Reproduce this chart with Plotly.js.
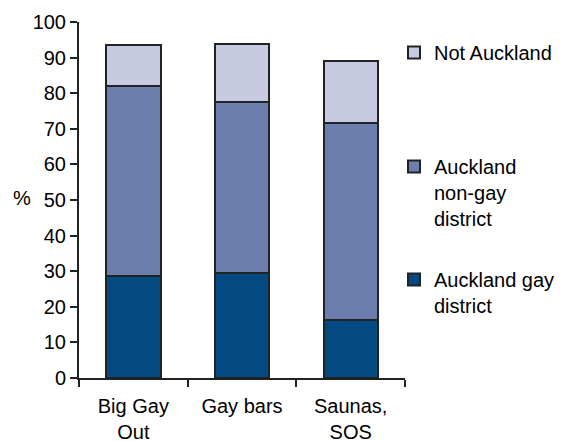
<!DOCTYPE html>
<html>
<head>
<meta charset="utf-8">
<script src="https://cdn.plot.ly/plotly-3.0.1.min.js"></script>
<style>html,body{margin:0;padding:0;background:#fff;}#chart{width:566px;height:441px;}</style>
</head>
<body>
<div id="chart"></div>
<script>
const categories = ["Big Gay<br>Out", "Gay bars", "Saunas,<br>SOS"];
const gayDistrict = [28.6, 29.6, 16.4];
const nonGayDistrict = [53.3, 47.9, 55.1];
const notAuckland = [11.7, 16.3, 17.6];
const yTicks = [0, 10, 20, 30, 40, 50, 60, 70, 80, 90, 100];

const FONT = '"Liberation Sans", Arial, sans-serif';
const EDGE = '#1f2422';
const fsz = 20;

const traces = [
  {type:'bar', x:categories, y:gayDistrict, name:'Auckland gay<br>district',
   marker:{color:'#034A83', line:{color:EDGE, width:2}}, legend:'legend3', hoverinfo:'none'},
  {type:'bar', x:categories, y:nonGayDistrict, name:'Auckland<br>non-gay<br>district',
   marker:{color:'#6B7EAE', line:{color:EDGE, width:2}}, legend:'legend2', hoverinfo:'none'},
  {type:'bar', x:categories, y:notAuckland, name:'Not Auckland',
   marker:{color:'#C8CAE2', line:{color:EDGE, width:2}}, legend:'legend', hoverinfo:'none'}
];

const W = 566, H = 441;
const L = 79, R = 161, T = 22, B = 63;
const pw = W - L - R, ph = H - T - B;
function lx(px){ return (px - L) / pw; }
function ly(py){ return (H - B - py) / ph; }

const legBase = {font:{family:FONT, size:fsz, color:'#000'}, bgcolor:'rgba(0,0,0,0)',
  xanchor:'left', yanchor:'top', valign:'top', itemclick:false, itemdoubleclick:false};

const layout = {
  width: W, height: H,
  margin:{l:L, r:R, t:T, b:B, pad:0, autoexpand:false},
  paper_bgcolor:'#fff', plot_bgcolor:'#fff',
  font:{family:FONT, size:fsz, color:'#000'},
  barmode:'stack', bargap:0.5,
  showlegend:true,
  xaxis:{
    showgrid:false, zeroline:false, showline:true, linecolor:EDGE, linewidth:2,
    ticks:'outside', tickson:'boundaries', ticklen:7, tickwidth:2, tickcolor:EDGE,
    ticklabelstandoff:9, automargin:false,
    tickfont:{family:FONT, size:fsz, color:'#000'}, fixedrange:true
  },
  yaxis:{
    range:[0,100], tickvals:yTicks, ticktext:yTicks.map(String),
    showgrid:false, zeroline:false, showline:true, linecolor:EDGE, linewidth:2,
    ticks:'outside', ticklen:7, tickwidth:2, tickcolor:EDGE, automargin:false,
    tickfont:{family:FONT, size:fsz, color:'#000'}, fixedrange:true
  },
  legend: Object.assign({}, legBase, {x:lx(394), y:ly(33)}),
  legend2: Object.assign({}, legBase, {x:lx(394), y:ly(147)}),
  legend3: Object.assign({}, legBase, {x:lx(394), y:ly(260)}),
  annotations:[
    {text:'%', xref:'paper', yref:'paper', x:lx(22), y:ly(198), xanchor:'center', yanchor:'middle',
     showarrow:false, font:{family:FONT, size:fsz, color:'#000'}}
  ]
};

Plotly.newPlot('chart', traces, layout, {displayModeBar:false, staticPlot:true});
</script>
</body>
</html>
